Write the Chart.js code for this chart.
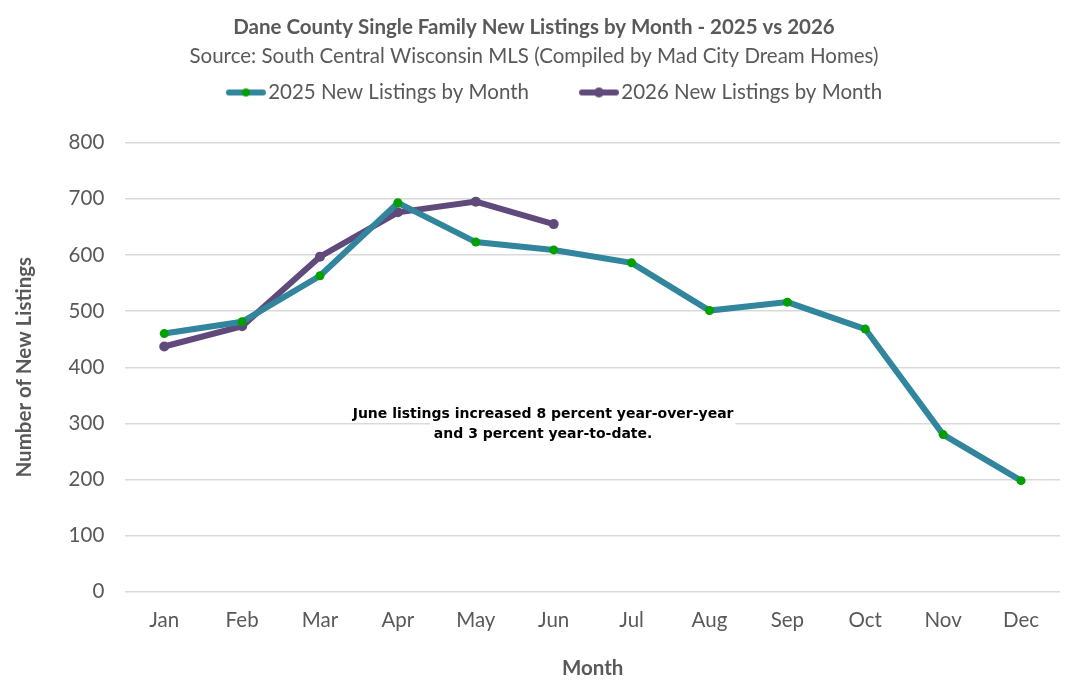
<!DOCTYPE html>
<html>
<head>
<meta charset="utf-8">
<script src="https://cdn.jsdelivr.net/npm/chart.js@4.4.1/dist/chart.umd.min.js"></script>
<style>
  html, body { margin: 0; padding: 0; background: #fff; }
  #wrap { width: 1076px; height: 695px; }
</style>
</head>
<body>
<div id="wrap"><canvas id="listingsChart"></canvas></div>
<script>
// === Datos ===
const months = ['Jan', 'Feb', 'Mar', 'Apr', 'May', 'Jun', 'Jul', 'Aug', 'Sep', 'Oct', 'Nov', 'Dec'];
const listings2025 = [460, 481, 563, 693, 623, 609, 586, 501, 516, 468, 280, 198];
const listings2026 = [437, 473, 597, 676, 695, 655];
const seriesNames = ['2025 New Listings by Month', '2026 New Listings by Month'];
const yTicks = [0, 100, 200, 300, 400, 500, 600, 700, 800];
const noteLines = ['June listings increased 8 percent year-over-year', 'and 3 percent year-to-date.'];

const FONT = "Lato, 'Open Sans', sans-serif";
const GRAY = '#595959';
const TEAL = '#31859C';
const GREEN = '#00A000';
const PURPLE = '#604A7B';

// icono de leyenda: linea con punto (a la derecha del hueco)
const legendIcon = (lineColor, dotColor, dotR) => {
    const c = document.createElement('canvas');
    c.width = 96; c.height = 12;
    const g = c.getContext('2d');
    g.strokeStyle = lineColor;
    g.lineWidth = 6;
    g.lineCap = 'round';
    g.beginPath(); g.moveTo(55, 6); g.lineTo(89, 6); g.stroke();
    g.fillStyle = dotColor;
    g.beginPath(); g.arc(72, 6, dotR, 0, Math.PI * 2); g.fill();
    return c;
};
const icons = [legendIcon(TEAL, GREEN, 4), legendIcon(PURPLE, PURPLE, 5)];

// espacio extra debajo de la leyenda
const legendGap = {
    id: 'legendGap',
    beforeInit(chart) {
        const fit = chart.legend.fit;
        chart.legend.fit = function () {
            fit.call(this);
            this.height += 30;
        };
    }
};

// nota de texto en el centro del grafico
const notePlugin = {
    id: 'note',
    afterDatasetsDraw(chart) {
        const { ctx, chartArea } = chart;
        const cx = chartArea.left + chartArea.width * 0.447;
        const y0 = chartArea.top + chartArea.height * 0.605;
        ctx.save();
        ctx.font = "bold 14px 'DejaVu Sans', sans-serif";
        const w0 = ctx.measureText(noteLines[0]).width;
        const w1 = ctx.measureText(noteLines[1]).width;
        ctx.fillStyle = '#fff';
        ctx.fillRect(cx - w0 / 2 - 2, y0 - 9, w0 + 4, 17);
        ctx.fillRect(cx - w1 / 2 - 4, y0 + 8, w1 / 2 + w0 / 2 + 6, 22);
        ctx.fillStyle = '#000';
        ctx.textAlign = 'center';
        ctx.textBaseline = 'middle';
        noteLines.forEach((t, i) => ctx.fillText(t, cx, y0 + i * 20));
        ctx.restore();
    }
};

new Chart(document.getElementById('listingsChart'), {
    type: 'line',
    data: {
        labels: months,
        datasets: [{
            label: seriesNames[0],
            data: listings2025,
            borderColor: TEAL,
            borderWidth: 6,
            pointBackgroundColor: GREEN,
            pointBorderColor: GREEN,
            pointRadius: 4.5,
            pointBorderWidth: 0,
            tension: 0
        }, {
            label: seriesNames[1],
            data: listings2026,
            borderColor: PURPLE,
            borderWidth: 6,
            pointBackgroundColor: PURPLE,
            pointBorderColor: PURPLE,
            pointRadius: 5,
            pointBorderWidth: 0,
            tension: 0
        }]
    },
    options: {
        responsive: true,
        maintainAspectRatio: false,
        animation: false,
        layout: { padding: { left: 8, right: 16, top: 11, bottom: 10 } },
        plugins: {
            title: {
                display: true,
                text: 'Dane County Single Family New Listings by Month - 2025 vs 2026',
                color: GRAY,
                font: { family: FONT, size: 20.5, weight: 'bold' },
                padding: { top: 4, bottom: 4 }
            },
            subtitle: {
                display: true,
                text: 'Source: South Central Wisconsin MLS (Compiled by Mad City Dream Homes)',
                color: GRAY,
                font: { family: FONT, size: 20.5 },
                padding: { bottom: 4 }
            },
            legend: {
                display: true,
                position: 'top',
                labels: {
                    usePointStyle: true,
                    pointStyleWidth: 72,
                    color: GRAY,
                    font: { family: FONT, size: 20.5 },
                    padding: 10,
                    generateLabels: (chart) => chart.data.datasets.map((ds, i) => ({
                        text: ds.label,
                        pointStyle: icons[i],
                        fillStyle: ds.borderColor,
                        strokeStyle: ds.borderColor,
                        lineWidth: 0,
                        fontColor: GRAY,
                        datasetIndex: i,
                        hidden: !chart.isDatasetVisible(i)
                    }))
                }
            },
            tooltip: { enabled: false }
        },
        scales: {
            x: {
                offset: true,
                grid: { display: false },
                border: { display: false },
                ticks: { color: GRAY, font: { family: FONT, size: 20.5 }, padding: 8 },
                title: {
                    display: true,
                    text: 'Month',
                    color: GRAY,
                    font: { family: FONT, size: 20.5, weight: 'bold' },
                    padding: { top: 16 }
                }
            },
            y: {
                min: yTicks[0],
                max: yTicks[yTicks.length - 1],
                afterBuildTicks: (axis) => { axis.ticks = yTicks.map(v => ({ value: v })); },
                grid: { color: '#D9D9D9', lineWidth: 1.5, drawTicks: false },
                border: { display: false },
                ticks: { color: GRAY, font: { family: FONT, size: 20.5 }, padding: 21 },
                title: {
                    display: true,
                    text: 'Number of New Listings',
                    color: GRAY,
                    font: { family: FONT, size: 20.5, weight: 'bold' },
                    padding: { bottom: 11 }
                }
            }
        }
    },
    plugins: [legendGap, notePlugin]
});
</script>
</body>
</html>
